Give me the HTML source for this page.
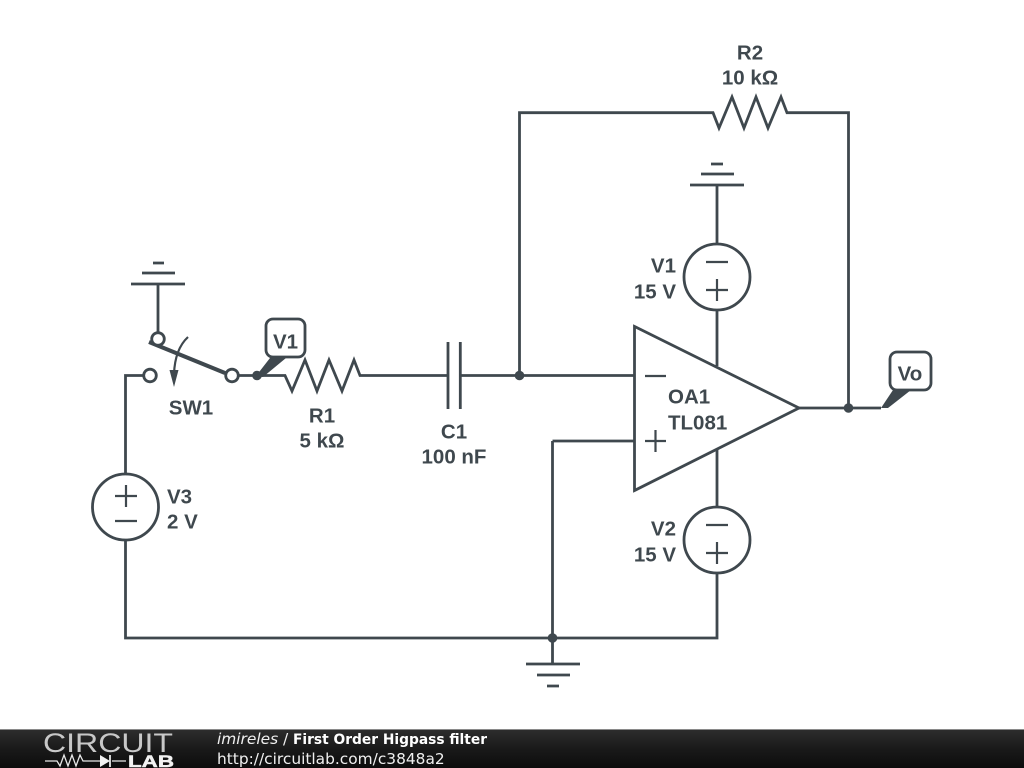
<!DOCTYPE html>
<html><head><meta charset="utf-8">
<style>
html,body{margin:0;padding:0;background:#fff;width:1024px;height:768px;overflow:hidden}
svg{display:block;position:absolute;left:0;top:0}
</style></head><body>
<svg width="1024" height="768" viewBox="0 0 1024 768" xmlns="http://www.w3.org/2000/svg">
<defs><linearGradient id="bar" x1="0" y1="0" x2="0" y2="1"><stop offset="0" stop-color="#2e2e2e"/><stop offset="0.5" stop-color="#1a1a1a"/><stop offset="1" stop-color="#0c0c0c"/></linearGradient></defs>
<rect width="1024" height="768" fill="#fff"/>
<g fill="none" stroke="#3f484e" stroke-width="2.800" stroke-linecap="butt" stroke-linejoin="miter">
<!-- wires -->
<path d="M697 112.700H519.500V375.500"/>
<path d="M697 112.700H713L719 128L732 97L744 128L756 97L768 128L781 97L787 112.700H848.500V408"/>
<path d="M239 375.500H285L292 391L305 360L317 391L329 360L342 391L354 360L360 375.500H448"/>
<path d="M460 375.500H634"/>
<path d="M143 375.500H125.500V474"/>
<path d="M125.500 540V638H717V573"/>
<path d="M552.500 441H634M552.500 441V664"/>
<path d="M158 284V333"/>
<path d="M717 185V244M717 310V366"/>
<path d="M717 450V507"/>
<path d="M799 408H881"/>
<!-- grounds -->
<path d="M131 284H185M142 273H175M153 263H164"/>
<path d="M690 185H744M701 174H734M711 164H723"/>
<path d="M526 664H580M537 675H570M547 686H559"/>
<!-- cap -->
<path d="M448 342V409M460.300 342V409"/>
<!-- opamp -->
<path d="M634.500 326.500V490.500L799 408Z" fill="#fff"/>
<!-- sources -->
<circle cx="125.500" cy="507" r="33"/>
<circle cx="717" cy="277" r="33"/>
<circle cx="717" cy="540" r="33"/>
<g stroke-width="2.200">
<path d="M645 376H666M645 441H666M655.500 430V452"/>
<path d="M115 496H137M126 485V507M115 521H137"/>
<path d="M706 262H728M706 290H728M717 279V301"/>
<path d="M706 525H728M706 553H728M717 542V564"/>
</g>
<!-- switch -->
<path d="M149 342L225 373" stroke-width="4"/>
<circle cx="158" cy="339" r="6.300" fill="#fff"/>
<circle cx="150" cy="375.500" r="6.300" fill="#fff"/>
<circle cx="232" cy="375.500" r="6.300" fill="#fff"/>
<path d="M188 337Q175 349 174 374" stroke-width="2.200"/>
<!-- tags -->
<rect x="266" y="319" width="39" height="38" rx="7" fill="#fff"/>
<rect x="890" y="352" width="41" height="38" rx="7" fill="#fff"/>
</g>
<g fill="#3f484e">
<path d="M174 387L169.500 370H178.500Z"/>
<path d="M256 376L270 358H286L263 377Z"/>
<path d="M881 408L893 390H911L888 408Z"/>
<circle cx="257" cy="375.500" r="4.800"/>
<circle cx="519.500" cy="375.500" r="4.800"/>
<circle cx="848.500" cy="408" r="4.800"/>
<circle cx="552.500" cy="638" r="4.800"/>
</g>
<g font-family="'Liberation Sans',sans-serif" font-weight="700" font-size="20.500px" fill="#3f484e">
<text x="750" y="59.500" text-anchor="middle">R2</text>
<text x="750" y="84.500" text-anchor="middle">10 kΩ</text>
<text x="676" y="272.500" text-anchor="end">V1</text>
<text x="676" y="298.500" text-anchor="end">15 V</text>
<text x="676" y="535.500" text-anchor="end">V2</text>
<text x="676" y="561.500" text-anchor="end">15 V</text>
<text x="167" y="503.500">V3</text>
<text x="167" y="528.500">2 V</text>
<text x="668" y="403.500">OA1</text>
<text x="668" y="429.500">TL081</text>
<text x="322" y="422.500" text-anchor="middle">R1</text>
<text x="322" y="447.500" text-anchor="middle">5 kΩ</text>
<text x="454" y="438.500" text-anchor="middle">C1</text>
<text x="454" y="463.500" text-anchor="middle">100 nF</text>
<text x="191" y="414.500" text-anchor="middle">SW1</text>
<text x="285.500" y="348.500" text-anchor="middle">V1</text>
<text x="910" y="380.500" text-anchor="middle">Vo</text>
</g>
<!-- footer -->
<rect x="0" y="729" width="1024" height="39" fill="url(#bar)"/>
<rect x="0" y="729" width="1024" height="1" fill="#8a8a8a"/>
<text x="43" y="752" font-family="'Liberation Sans',sans-serif" font-size="27px" fill="#c8c8c8" textLength="130" lengthAdjust="spacingAndGlyphs" font-weight="400">CIRCUIT</text>
<g fill="none" stroke="#e8e8e8" stroke-width="1.300">
<path d="M45 761H57L60 766L64 755L68 766L72 755L76 766L80 755L83 761H100M112 761H126"/>
<path d="M110 755V767" stroke-width="1.800"/>
</g>
<path d="M100 755L110 761L100 767Z" fill="#f2f2f2"/>
<text x="128" y="767" font-family="'Liberation Sans',sans-serif" font-size="16.500px" font-weight="700" fill="#f2f2f2" stroke="#f2f2f2" stroke-width="0.500" textLength="46" lengthAdjust="spacingAndGlyphs">LAB</text>
<text x="217" y="744" font-family="'DejaVu Sans',sans-serif" font-size="15.400px" fill="#f0f0f0"><tspan font-style="italic">imireles</tspan> /</text>
<text x="293" y="744" font-family="'DejaVu Sans',sans-serif" font-size="13.800px" font-weight="700" fill="#fff" textLength="194" lengthAdjust="spacingAndGlyphs">First Order Higpass filter</text>
<text x="217" y="764" font-family="'DejaVu Sans',sans-serif" font-size="15.400px" fill="#f0f0f0">http://circuitlab.com/c3848a2</text>
</svg>
</body></html>
